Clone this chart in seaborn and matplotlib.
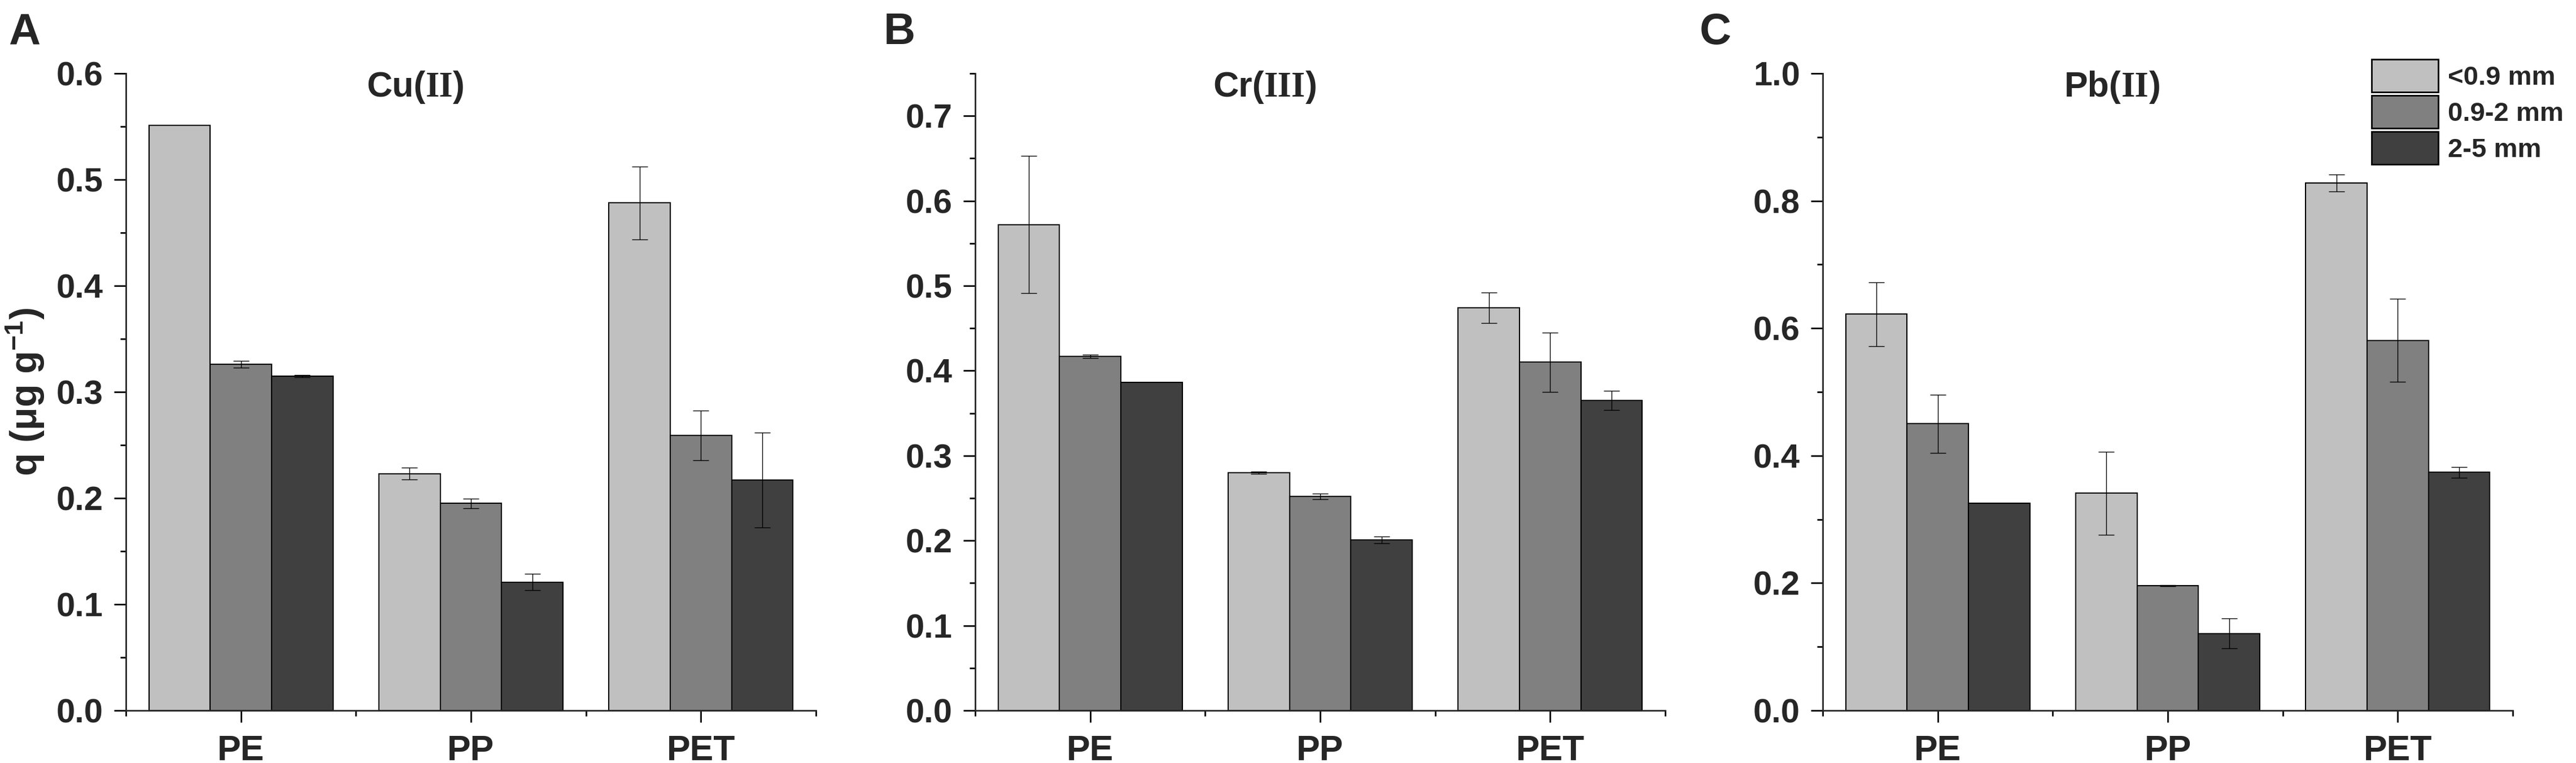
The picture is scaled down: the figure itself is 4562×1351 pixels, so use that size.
import numpy as np
import pandas as pd
import seaborn as sns
import matplotlib
matplotlib.use('Agg')
import matplotlib.pyplot as plt
from matplotlib.patches import Patch
from matplotlib.ticker import MultipleLocator, FixedLocator, FormatStrFormatter
from matplotlib.offsetbox import TextArea, HPacker, AnchoredOffsetbox

# data
polymers = ['PE', 'PP', 'PET']
sizes = ['<0.9 mm', '0.9-2 mm', '2-5 mm']
colors = ['#c0c0c0', '#808080', '#404040']

# Cu(II)
cu_mean = [[0.551, 0.223, 0.478],   # <0.9 mm
           [0.326, 0.195, 0.259],   # 0.9-2 mm
           [0.315, 0.121, 0.217]]   # 2-5 mm
cu_err = [[0.0, 0.0055, 0.0345],
          [0.003, 0.0045, 0.0236],
          [0.001, 0.0075, 0.0445]]

# Cr(III)
cr_mean = [[0.572, 0.280, 0.474],
           [0.417, 0.252, 0.410],
           [0.386, 0.201, 0.365]]
cr_err = [[0.0808, 0.0015, 0.018],
          [0.002, 0.003, 0.035],
          [0.0, 0.004, 0.011]]

# Pb(II)
pb_mean = [[0.622, 0.341, 0.828],
           [0.450, 0.196, 0.581],
           [0.325, 0.121, 0.374]]
pb_err = [[0.050, 0.065, 0.0137],
          [0.046, 0.001, 0.065],
          [0.0, 0.0237, 0.0084]]

panels = [('A', 'Cu(', 'II', ')', cu_mean, cu_err, 0.6, 0.1, 0.05),
          ('B', 'Cr(', 'III', ')', cr_mean, cr_err, 0.75, 0.1, 0.05),
          ('C', 'Pb(', 'II', ')', pb_mean, pb_err, 1.0, 0.2, 0.1)]

sns.set_style('ticks')
plt.rcParams['font.family'] = ['Liberation Sans', 'DejaVu Sans']
plt.rcParams['font.weight'] = 'bold'
plt.rcParams['mathtext.default'] = 'regular'
plt.rcParams['axes.linewidth'] = 2

W, H = 4562, 1351
fig = plt.figure(figsize=(W / 100, H / 100), dpi=100)

ax_left = [223, 1727, 3228]
letter_x = [15, 1565, 3010]
ax_w = 1222
ax_bottom = 1258
ax_top = 130

for i, (letter, t1, t2, t3, means, errs, ymax, major, minor) in enumerate(panels):
    ax = fig.add_axes([ax_left[i] / W, (H - ax_bottom) / H, ax_w / W, (ax_bottom - ax_top) / H])

    rows = []
    for s, size in enumerate(sizes):
        for p, poly in enumerate(polymers):
            rows.append({'polymer': poly, 'size': size, 'q': means[s][p]})
    df = pd.DataFrame(rows)

    sns.barplot(data=df, x='polymer', y='q', hue='size', order=polymers, hue_order=sizes,
                palette=colors, edgecolor='black', linewidth=1.5, errorbar=None,
                width=0.8, saturation=1, legend=False, ax=ax)

    # error bars on top of the bars
    bar_conts = list(ax.containers)
    for s, cont in enumerate(bar_conts):
        for p, bar in enumerate(cont):
            e = errs[s][p]
            if e <= 0:
                continue
            xc = bar.get_x() + bar.get_width() / 2
            ax.errorbar(xc, bar.get_height(), yerr=e, fmt='none', ecolor='black',
                        elinewidth=1, capsize=10, capthick=1, zorder=5)

    ax.set_xlim(-0.5, 2.5)
    ax.set_ylim(0, ymax)
    ax.yaxis.set_major_locator(MultipleLocator(major))
    ax.yaxis.set_minor_locator(MultipleLocator(minor))
    ax.yaxis.set_major_formatter(FormatStrFormatter('%.1f'))
    ax.xaxis.set_minor_locator(FixedLocator([-0.5, 0.5, 1.5, 2.5]))
    sns.despine(ax=ax)

    ax.tick_params(axis='both', which='major', direction='out', length=15, width=2, color='black')
    ax.tick_params(axis='both', which='minor', direction='out', length=7.5, width=2, color='black')
    ax.tick_params(axis='y', which='major', labelsize=43, pad=14)
    ax.tick_params(axis='x', which='major', labelsize=45, pad=15)
    for lab in ax.get_xticklabels() + ax.get_yticklabels():
        lab.set_fontweight('bold')

    ax.set_xlabel('')
    if i == 0:
        ax.set_ylabel('q (μg g$^{-1}$)', fontsize=48, fontweight='bold')
        ax.yaxis.set_label_coords(-(223 - 82) / ax_w, 0.5)
    else:
        ax.set_ylabel('')

    # title with serif roman numerals
    parts = [TextArea(t1, textprops=dict(fontsize=45, fontweight='bold', family='Liberation Sans')),
             TextArea(t2, textprops=dict(fontsize=45, fontweight='bold', family='Liberation Serif')),
             TextArea(t3, textprops=dict(fontsize=45, fontweight='bold', family='Liberation Sans'))]
    box = HPacker(children=parts, align='baseline', pad=0, sep=0)
    anchored = AnchoredOffsetbox(loc='center', child=box, pad=0, borderpad=0, frameon=False,
                                 bbox_to_anchor=(0.42, 0.978), bbox_transform=ax.transAxes)
    ax.add_artist(anchored)

    fig.text(letter_x[i] / W, (H - 78) / H, letter, fontsize=56, fontweight='bold',
             ha='left', va='baseline')

handles = [Patch(facecolor=c, edgecolor='black', linewidth=2) for c in colors]
fig.legend(handles=handles, labels=sizes, loc='upper left',
           bbox_to_anchor=(4200 / W, 1 - 105 / H), frameon=False,
           handlelength=2.5, handleheight=1.51, labelspacing=0.13, handletextpad=0.36,
           borderpad=0, borderaxespad=0, prop={'weight': 'bold', 'size': 34})

fig.savefig('out.png', dpi=100)
